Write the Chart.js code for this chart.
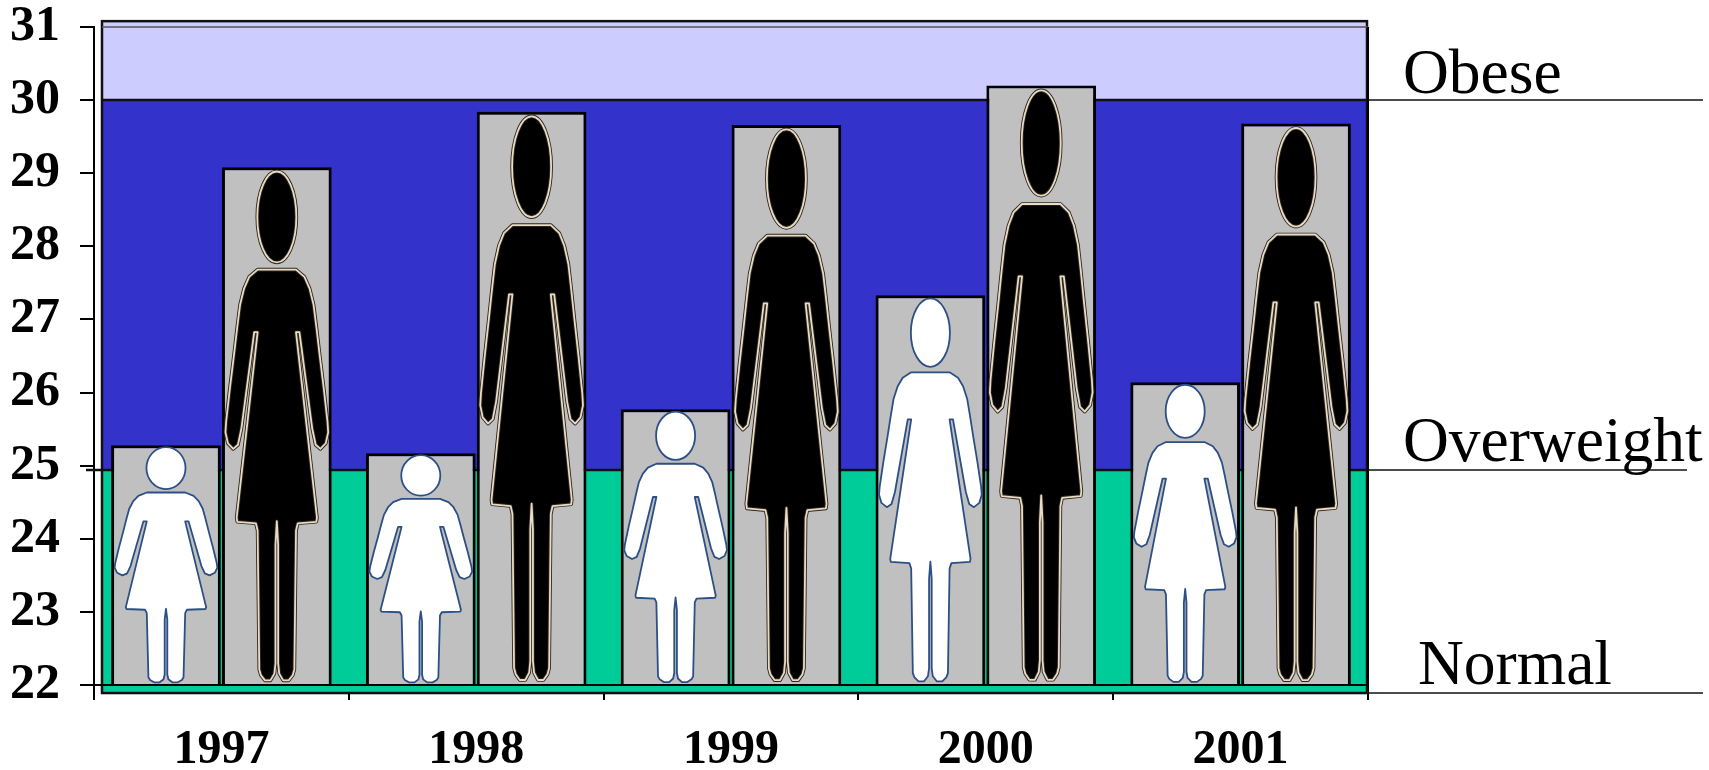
<!DOCTYPE html>
<html><head><meta charset="utf-8">
<style>html,body{margin:0;padding:0;background:#fff}#w{width:1709px;height:770px}</style>
<script src="https://cdn.jsdelivr.net/npm/chart.js@4"></script>
</head><body><div id="w"><canvas id="c" width="1709" height="770"></canvas></div>
<script>
const categories = ['1997','1998','1999','2000','2001'];
const lightFigure = [25.28,25.17,25.77,27.33,26.14];
const darkFigure = [29.08,29.84,29.66,30.20,29.68];
const yTicks = [22,23,24,25,26,27,28,29,30,31];
const bandEdges = [21.89,24.94,30,31.08];
const bandColors = ['#00cc99','#3333cc','#ccccff'];
const bandNames = ['Normal','Overweight','Obese'];

// half outline of the pictogram, relative to the bar box: [offset from centre, height from top]
const half = [[0,.198],[.175,.198],[.252,.212],[.298,.234],[.335,.266],[.36,.308],[.391,.364],[.428,.428],[.462,.492],[.468,.513],[.446,.534],[.397,.545],[.354,.537],[.323,.506],[.206,.319],[.175,.319],[.366,.678],[.36,.686],[.191,.689],[.175,.703],[.16,.972],[.145,.983],[.108,.993],[.058,.993],[.022,.98],[.012,.96],[.012,.73],[0,.685]];

function figurePath(b){
  const w=b.width, top=b.y, h=b.base-b.y, cx=b.x;
  const p=new Path2D();
  p.moveTo(cx,top+half[0][1]*h);
  half.forEach(q=>p.lineTo(cx+q[0]*w,top+q[1]*h));
  for(let i=half.length-2;i>=0;i--)p.lineTo(cx-half[i][0]*w,top+half[i][1]*h);
  p.closePath();
  p.moveTo(cx+.178*w,top+.096*h);
  p.ellipse(cx,top+.096*h,.178*w,.088*h,0,0,Math.PI*2);
  return p;
}
const paint = {
  id:'paint',
  beforeDatasetsDraw(ch){
    const {ctx,chartArea:a,scales:{y}}=ch;
    const L=a.left+8,R=a.right-1;
    ctx.save();
    bandColors.forEach((col,i)=>{
      const t=y.getPixelForValue(bandEdges[i+1]),b=y.getPixelForValue(bandEdges[i]);
      ctx.fillStyle=col;ctx.fillRect(L,t,R-L,b-t);
    });
    ctx.strokeStyle='#111';ctx.lineWidth=2.5;
    ctx.strokeRect(L,y.getPixelForValue(bandEdges[3]),R-L,y.getPixelForValue(bandEdges[0])-y.getPixelForValue(bandEdges[3]));
    [1,2].forEach(i=>{const v=Math.round(y.getPixelForValue(bandEdges[i]));
      ctx.beginPath();ctx.moveTo(i===1?a.left-8:L,v);ctx.lineTo(R,v);ctx.stroke();});
    ctx.strokeStyle='#555';ctx.lineWidth=1.5;
    const t31=y.getPixelForValue(31);
    ctx.beginPath();ctx.moveTo(L,t31);ctx.lineTo(a.right,t31);ctx.stroke();
    ctx.restore();
  },
  afterDatasetsDraw(ch){
    const {ctx,chartArea:a,scales:{y}}=ch;
    ctx.save();ctx.lineJoin='round';
    ch.getSortedVisibleDatasetMetas().forEach((m,di)=>{
      m.data.forEach(b=>{
        const p=figurePath(b);
        if(di===0){
          ctx.fillStyle='#fff';ctx.fill(p);
          ctx.strokeStyle='#2c4f86';ctx.lineWidth=1.8;ctx.stroke(p);
        }else{
          ctx.fillStyle='#000';ctx.fill(p);
          ctx.strokeStyle='#2e2620';ctx.lineWidth=3.6;ctx.stroke(p);
          ctx.strokeStyle='#e8dcc4';ctx.lineWidth=1.8;ctx.stroke(p);
        }
      });
    });
    // right-hand border and zone leaders
    ctx.strokeStyle='#000';ctx.lineWidth=2;
    ctx.beginPath();ctx.moveTo(a.right,a.top);ctx.lineTo(a.right,a.bottom);ctx.stroke();
    ctx.beginPath();ctx.moveTo(a.left,a.bottom);ctx.lineTo(a.right,a.bottom);ctx.stroke();
    ctx.lineWidth=1.5;ctx.strokeStyle='#111';
    [[bandEdges[2],1703],[bandEdges[1],1687],[bandEdges[0],1703]].forEach(q=>{
      const v=Math.round(y.getPixelForValue(q[0]));
      ctx.beginPath();ctx.moveTo(a.right,v);ctx.lineTo(q[1],v);ctx.stroke();
    });
    ctx.fillStyle='#000';ctx.font='63.5px "Liberation Serif"';ctx.textBaseline='alphabetic';ctx.textAlign='left';
    ctx.fillText(bandNames[2],1403,93);
    ctx.fillText(bandNames[1],1403,461);
    ctx.fillText(bandNames[0],1418,684);
    ctx.restore();
  }
};
const barStyle={backgroundColor:'#c0c0c0',borderColor:'#000',borderWidth:3,base:22,categoryPercentage:.87,barPercentage:.99};
new Chart(document.getElementById('c'),{
  type:'bar',
  data:{labels:categories,datasets:[
    Object.assign({label:'Light figure',data:lightFigure},barStyle),
    Object.assign({label:'Dark figure',data:darkFigure},barStyle)
  ]},
  plugins:[paint],
  options:{
    responsive:false,animation:false,
    layout:{padding:{top:27,right:341,left:0,bottom:0}},
    plugins:{legend:{display:false},tooltip:{enabled:false},title:{display:false}},
    scales:{
      x:{
        afterFit(s){s.height=85;},
        border:{display:false},
        grid:{offset:true,drawOnChartArea:false,drawTicks:true,tickLength:15,color:'#000',lineWidth:2},
        ticks:{color:'#000',padding:22,maxRotation:0,font:{family:'"Liberation Serif"',size:48,weight:'bold'}}
      },
      y:{
        min:22,max:31,
        afterFit(s){s.width=94;s.paddingTop=0;s.paddingBottom=0;},
        afterBuildTicks(s){s.ticks=yTicks.map(v=>({value:v}));},
        border:{display:true,color:'#000',width:2},
        grid:{drawOnChartArea:false,drawTicks:true,tickLength:14,color:'#000',lineWidth:2},
        ticks:{color:'#000',padding:20,font:{family:'"Liberation Serif"',size:50,weight:'bold'}}
      }
    }
  }
});
</script></body></html>
